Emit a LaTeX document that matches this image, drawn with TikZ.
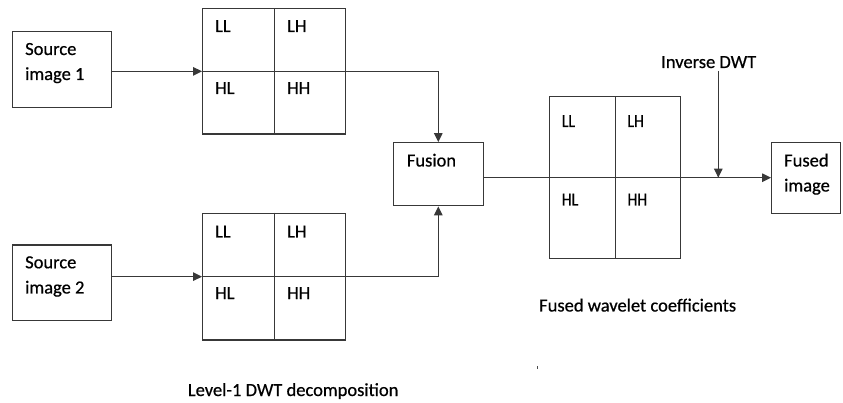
\documentclass[tikz,border=0pt]{standalone}
\usepackage{fontspec}
\setmainfont{Carlito}
\newfontface\dfont[FakeBold=0.6]{Carlito}
\usetikzlibrary{arrows.meta}
\begin{document}
\begin{tikzpicture}[x=1pt,y=-1pt,
  every node/.style={font=\dfont\fontsize{18.5}{22.6}\selectfont, text=black},
  frame/.style={draw=black!78, line width=1.3pt, inner sep=0pt, fill=white},
  lbl/.style={anchor=base west, inner sep=0pt},
  nlbl/.style={anchor=base west, inner sep=0pt, xscale=0.85},
  conn/.style={draw=black!78, line width=1.2pt},
  arr/.style={conn, -{Triangle[length=9pt,width=8.5pt]}}]
\useasboundingbox (0,0) rectangle (843,403);

% boxes
\node[frame, minimum width=99pt, minimum height=75.6pt] (s1) at (62.2,69.5) {};
\node[frame, minimum width=99pt, minimum height=75.7pt] (s2) at (62.2,282.85) {};
\node[frame, minimum width=143pt, minimum height=125.3pt] (g1) at (274.2,71.35) {};
\node[frame, minimum width=143pt, minimum height=126.7pt] (g2) at (274.2,276.65) {};
\node[frame, minimum width=90pt, minimum height=63pt] (fu) at (438.3,174.2) {};
\node[frame, minimum width=131pt, minimum height=162pt] (fg) at (615.2,177.7) {};
\node[frame, minimum width=69pt, minimum height=70.6pt] (fi) at (806.2,178) {};

% grid lines
\draw[conn] (g1.north) -- (g1.south) (g1.west) -- (g1.east);
\draw[conn] (g2.north) -- (g2.south) (g2.west) -- (g2.east);
\draw[conn] (fg.north) -- (fg.south) (fg.west) -- (fg.east);

% texts
\node[lbl] (s1a) at (25,55) {Source};
\node[lbl] (s1b) at (25,80) {image 1};
\node[lbl] (s2a) at (25,268.3) {Source};
\node[lbl] (s2b) at (25,293.5) {image 2};

\node[lbl] (g1ll) at (215,32) {LL};
\node[lbl] (g1lh) at (287,32) {LH};
\node[lbl] (g1hl) at (215,94) {HL};
\node[lbl] (g1hh) at (287,94) {HH};

\node[lbl] (g2ll) at (215,237.5) {LL};
\node[lbl] (g2lh) at (287,237.5) {LH};
\node[lbl] (g2hl) at (215,299) {HL};
\node[lbl] (g2hh) at (287,299) {HH};

\node[lbl] (fut) at (406.7,166.5) {Fusion};

\node[nlbl] (fgll) at (561.7,127) {LL};
\node[nlbl] (fglh) at (627.3,127) {LH};
\node[nlbl] (fghl) at (561.7,205.5) {HL};
\node[nlbl] (fghh) at (627.3,205.5) {HH};

\node[lbl] (fia) at (784,166.5) {Fused};
\node[lbl] (fib) at (784,191.5) {image};

\node[lbl] (inv) at (661,68) {Inverse DWT};
\node[lbl] (fwc) at (539,311.5) {Fused wavelet coefficients};
\node[lbl] (lvl) at (187.7,396) {Level-1 DWT decomposition};

% connectors
\draw[arr] (s1.east |- g1.west) -- (g1.west);
\draw[arr] (s2.east |- g2.west) -- (g2.west);
\draw[arr] (g1.east) -| (fu.north);
\draw[arr] (g2.east) -| (fu.south);
\draw[conn] (fu.east |- fg.west) -- (fg.west);
\draw[arr] (fg.east) -- (fi.west |- fg.east);
\coordinate (invtop) at (718.3,71);
\draw[arr] (invtop) -- (invtop |- fg.east);

% small stray mark
\coordinate (mk) at (537.7,366);
\draw[black!70, line width=0.9pt] (mk) -- ++(0,3);
\end{tikzpicture}
\end{document}
